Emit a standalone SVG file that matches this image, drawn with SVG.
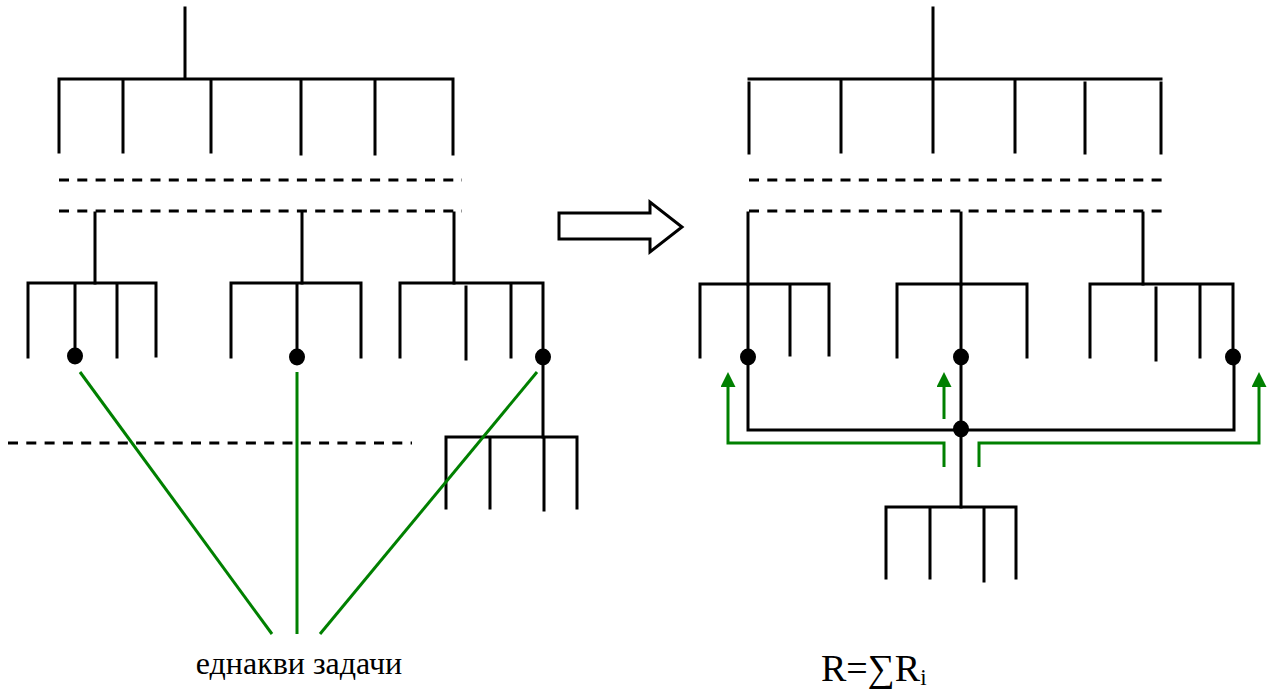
<svg xmlns="http://www.w3.org/2000/svg" width="1274" height="693" viewBox="0 0 1274 693">
<style>
.ln{fill:none;stroke:#000;stroke-width:3;stroke-linecap:square}
.dash{fill:none;stroke:#000;stroke-width:3;stroke-dasharray:10 8.3}
.g{fill:none;stroke:#008000;stroke-width:3}
.dot{fill:#000}
</style>
<defs>
<marker id="ga" viewBox="0 0 15 15" refX="0" refY="7.5" markerWidth="15" markerHeight="15" markerUnits="userSpaceOnUse" orient="auto">
<path d="M0 0L15 7.5L0 15z" fill="#008000"/>
</marker>
</defs>
<rect width="1274" height="693" fill="#fff"/>

<g id="left-tree">
<path class="ln" d="M185 8V79M59 79H453M59 79V152M123 79V152M211 79V152M301 82V154M375 79V154M453 79V154"/>
<path class="dash" d="M59 180H462M59 211H462"/>
<path class="ln" d="M95 213V283M302 213V283M454 213V283"/>
<g id="left-group-a"><path class="ln" d="M28 283H156M28 283V357M75 283V356M117 283V357M156 283V356"/></g>
<g id="left-group-b"><path class="ln" d="M231 283H361M231 283V357M297 283V356M361 283V357"/></g>
<g id="left-group-c"><path class="ln" d="M400 283H542M400 283V357M466 287V359M511 283V357M543 283V437"/></g>
<g id="left-group-d"><path class="ln" d="M446 437H577M446 437V508M490 437V508M544 437V510M577 437V508"/></g>
<path class="dash" d="M8 443H412"/>
<g id="left-dots">
<ellipse class="dot" cx="75" cy="356" rx="8" ry="8.5"/>
<ellipse class="dot" cx="297" cy="357" rx="8" ry="8.5"/>
<ellipse class="dot" cx="543" cy="357" rx="8" ry="8.5"/>
</g>
</g>

<g id="block-arrow">
<polygon points="559,213 650,213 650,202 682,227 650,252 650,239 559,239" fill="#fff" stroke="#000" stroke-width="3"/>
</g>

<g id="right-tree">
<path class="ln" d="M933 8V79M749 79H1161M749 83V153M841 79V152M933 79V152M1015 79V152M1085 83V153M1161 83V153"/>
<path class="dash" d="M749 180H1163M749 211H1163"/>
<path class="ln" d="M748 213V284M961 213V284M1143 213V284"/>
<g id="right-group-a"><path class="ln" d="M700 284H829M700 284V357M748 284V357M790 284V355M829 284V355"/></g>
<g id="right-group-b"><path class="ln" d="M897 284H1027M897 284V357M961 284V357M1027 284V357"/></g>
<g id="right-group-c"><path class="ln" d="M1090 284H1231M1090 284V357M1156 288V360M1200 284V357M1233 284V357"/></g>
<path class="ln" d="M748 357V430H1234V357M961 357V507"/>
<g id="right-group-d"><path class="ln" d="M886 507H1016M886 507V578M930 507V578M984 509V581M1016 507V578"/></g>
<g id="right-dots">
<ellipse class="dot" cx="748" cy="357" rx="8" ry="8.5"/>
<ellipse class="dot" cx="961" cy="357" rx="8" ry="8.5"/>
<ellipse class="dot" cx="1233" cy="357" rx="8" ry="8.5"/>
<ellipse class="dot" cx="961" cy="429" rx="8" ry="8.5"/>
</g>
</g>

<g id="connectors">
<path class="g" d="M80 372L272 634"/>
<path class="g" d="M297 372V634"/>
<path class="g" d="M537 372L320 634"/>
<path class="g" d="M944 467V443H728V387" marker-end="url(#ga)"/>
<path class="g" d="M944 419V387" marker-end="url(#ga)"/>
<path class="g" d="M979 467V443H1259V387" marker-end="url(#ga)"/>
</g>

<g id="labels" font-family="'Liberation Serif', 'DejaVu Serif', serif" fill="#000">
<text x="299" y="674" font-size="32" text-anchor="middle">еднакви задачи</text>
<text x="821" y="681" font-size="38">R=∑R<tspan font-size="23" dy="4">i</tspan></text>
</g>
</svg>
